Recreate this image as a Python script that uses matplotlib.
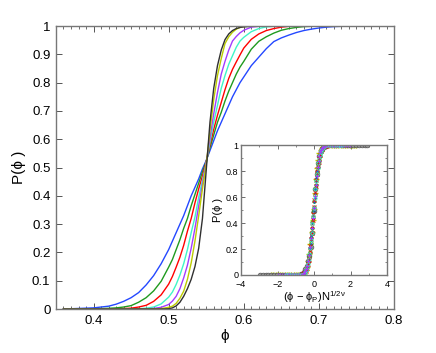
import numpy as np
import matplotlib
matplotlib.use("Agg")
import matplotlib.pyplot as plt
from matplotlib.ticker import MultipleLocator, FormatStrFormatter

plt.rcParams['font.family'] = ['Liberation Sans', 'DejaVu Sans']
plt.rcParams['mathtext.fontset'] = 'custom'
plt.rcParams['mathtext.rm'] = 'Liberation Sans'
plt.rcParams['mathtext.it'] = 'Liberation Sans'

# packing fraction grid (same for every system size)
phi = [0.36, 0.37, 0.38, 0.39, 0.40, 0.41, 0.42, 0.43, 0.44, 0.45, 0.46, 0.47, 0.48, 0.49, 0.50,
       0.505, 0.51, 0.515, 0.52, 0.525, 0.53, 0.535, 0.54, 0.545, 0.55, 0.555, 0.56, 0.565, 0.57,
       0.575, 0.58, 0.585, 0.59, 0.595, 0.60,
       0.61, 0.62, 0.63, 0.64, 0.65, 0.66, 0.67, 0.68, 0.69, 0.70, 0.71, 0.72, 0.73, 0.74]

# P(phi), smallest system (widest) first
p_blue = [0.0005, 0.001, 0.002, 0.003, 0.004, 0.007, 0.010, 0.017, 0.027, 0.040, 0.058, 0.085, 0.118, 0.16, 0.21,
          0.24, 0.27, 0.30, 0.33, 0.365, 0.40, 0.43, 0.46, 0.495, 0.525, 0.56, 0.595, 0.63, 0.66,
          0.69, 0.72, 0.75, 0.775, 0.80, 0.82,
          0.86, 0.89, 0.92, 0.945, 0.958, 0.968, 0.977, 0.984, 0.989, 0.993, 0.996, 0.998, 0.999, 1.0]
p_green = [0, 0, 0.0002, 0.0003, 0.0006, 0.0015, 0.0025, 0.004, 0.007, 0.012, 0.024, 0.040, 0.064, 0.098, 0.148,
           0.175, 0.21, 0.245, 0.285, 0.32, 0.365, 0.405, 0.445, 0.485, 0.522, 0.57, 0.615, 0.66, 0.695,
           0.735, 0.77, 0.80, 0.83, 0.855, 0.875,
           0.918, 0.946, 0.962, 0.975, 0.985, 0.991, 0.995, 0.998, 0.999, 1.0, 1.0, 1.0, 1.0, 1.0]
p_red = [0, 0, 0, 0, 0, 0, 0.0002, 0.0006, 0.0015, 0.003, 0.007, 0.013, 0.027, 0.050, 0.088,
         0.115, 0.148, 0.183, 0.225, 0.275, 0.32, 0.375, 0.425, 0.47, 0.52, 0.58, 0.635, 0.685, 0.73,
         0.775, 0.815, 0.847, 0.873, 0.898, 0.922,
         0.953, 0.972, 0.984, 0.991, 0.996, 0.999, 1.0, 1.0, 1.0, 1.0, 1.0, 1.0, 1.0, 1.0]
p_cyan = [0, 0, 0, 0, 0, 0, 0, 0, 0.0002, 0.0004, 0.001, 0.003, 0.007, 0.018, 0.042,
          0.060, 0.087, 0.12, 0.16, 0.21, 0.27, 0.325, 0.395, 0.455, 0.515, 0.59, 0.66, 0.72, 0.78,
          0.825, 0.865, 0.895, 0.925, 0.947, 0.960,
          0.980, 0.991, 0.997, 0.999, 1.0, 1.0, 1.0, 1.0, 1.0, 1.0, 1.0, 1.0, 1.0, 1.0]
p_purple = [0, 0, 0, 0, 0, 0, 0, 0, 0, 0, 0.0002, 0.0005, 0.002, 0.006, 0.016,
            0.028, 0.045, 0.072, 0.11, 0.155, 0.215, 0.285, 0.365, 0.44, 0.515, 0.605, 0.69, 0.765, 0.83,
            0.875, 0.915, 0.947, 0.963, 0.976, 0.985,
            0.996, 0.999, 1.0, 1.0, 1.0, 1.0, 1.0, 1.0, 1.0, 1.0, 1.0, 1.0, 1.0, 1.0]
p_yellow = [0, 0, 0, 0, 0, 0, 0, 0, 0, 0, 0, 0, 0.0003, 0.0015, 0.006,
            0.010, 0.020, 0.038, 0.063, 0.105, 0.163, 0.24, 0.33, 0.425, 0.51, 0.63, 0.74, 0.825, 0.885,
            0.938, 0.962, 0.978, 0.989, 0.995, 0.998,
            1.0, 1.0, 1.0, 1.0, 1.0, 1.0, 1.0, 1.0, 1.0, 1.0, 1.0, 1.0, 1.0, 1.0]
p_black = [0, 0, 0, 0, 0, 0, 0, 0, 0, 0, 0, 0, 0, 0, 0.001,
           0.004, 0.011, 0.024, 0.045, 0.072, 0.105, 0.15, 0.215, 0.32, 0.49, 0.66, 0.78, 0.86, 0.915,
           0.952, 0.972, 0.984, 0.991, 0.995, 0.997,
           0.999, 1.0, 1.0, 1.0, 1.0, 1.0, 1.0, 1.0, 1.0, 1.0, 1.0, 1.0, 1.0, 1.0]

phi_p = 0.551
# N^(1/2nu) factor for each size, used for the collapse in the inset
collapse_scale = [4.0, 5.2, 6.5, 8.1, 10.3, 12.3, 15.5]

curves = [p_blue, p_green, p_red, p_cyan, p_purple, p_yellow, p_black]
colors = ['#2448ff', '#1f9a1f', '#ff0000', '#3ff5c8', '#a23cff', '#bccc00', '#303030']
inset_markers = ['.', 'o', 'x', 'o', '+', '+', 'o']

fig = plt.figure(figsize=(4.36, 3.53), dpi=100)
ax = fig.add_axes([0.1284, 0.1246, 0.7753, 0.8017])

for p, c in zip(curves, colors):
    ax.plot(phi, p, color=c, lw=1.0)

ax.set_xlim(0.35, 0.8)
ax.set_ylim(0, 1)
ax.xaxis.set_major_locator(MultipleLocator(0.1))
ax.xaxis.set_minor_locator(MultipleLocator(0.01))
ax.yaxis.set_major_locator(MultipleLocator(0.1))
ax.xaxis.set_major_formatter(FormatStrFormatter('%g'))
ax.yaxis.set_major_formatter(FormatStrFormatter('%g'))
ax.tick_params(which='both', direction='in', top=True, right=True, labelsize=9.5,
               color='#555555', pad=4)
ax.tick_params(which='major', length=4, width=0.7)
ax.tick_params(which='minor', length=2, width=0.6)
for s in ax.spines.values():
    s.set_color('#777777')
    s.set_linewidth(1.0)
ax.set_xlabel('ϕ', fontsize=11, labelpad=2)
ax.set_ylabel('P(ϕ )', fontsize=11, labelpad=4)

# inset: data collapse
ins = fig.add_axes([0.5528, 0.221, 0.3348, 0.368])
order = [5, 6, 0, 1, 2, 3, 4]
for i in order:
    x = (np.array(phi) - phi_p) * collapse_scale[i]
    m = inset_markers[i]
    if i == 6:
        ins.plot(x, curves[i], ls='none', marker='o', ms=3.4, mfc='#9a9a9a', mec='#555555', mew=0.5)
    elif i == 5:
        ins.plot(x, curves[i], ls='none', marker='+', ms=4.5, color=colors[i], mew=1.0)
    elif m in ('x', '+', '.'):
        ins.plot(x, curves[i], ls='none', marker=m, ms=2.6, color=colors[i], mew=0.6)
    else:
        ins.plot(x, curves[i], ls='none', marker=m, ms=2.4, mfc='none', mec=colors[i], mew=0.6)

ins.set_xlim(-4, 4)
ins.set_ylim(0, 1)
ins.xaxis.set_major_locator(MultipleLocator(2))
ins.xaxis.set_minor_locator(MultipleLocator(1))
ins.yaxis.set_major_locator(MultipleLocator(0.2))
ins.yaxis.set_minor_locator(MultipleLocator(0.1))
ins.yaxis.set_major_formatter(FormatStrFormatter('%g'))
ins.tick_params(which='both', direction='in', top=True, right=True, labelsize=6.5,
                color='#555555', pad=2)
ins.tick_params(axis='x', which='major', pad=3.5)
ins.tick_params(which='major', length=3, width=0.6)
ins.tick_params(which='minor', length=1.5, width=0.5)
for s in ins.spines.values():
    s.set_color('#777777')
    s.set_linewidth(1.0)
ins.set_xlabel(r'(ϕ − ϕ$_\mathrm{P}$)N$^{1/2ν}$', fontsize=8, labelpad=0.5)
ins.set_ylabel('P(ϕ )', fontsize=8, labelpad=2)

fig.savefig('out.png', dpi=100)
